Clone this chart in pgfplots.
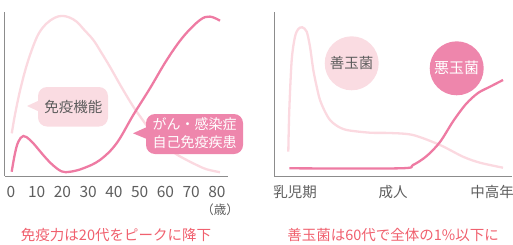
\documentclass[border=0pt]{standalone}
\usepackage{pgfplots}
\pgfplotsset{compat=1.18}
\usepackage{fontspec}
\setmainfont{Noto Sans CJK JP}
\definecolor{lightc}{HTML}{FBD9E0}
\definecolor{darkc}{HTML}{EE7BA3}
\definecolor{boxa}{HTML}{FADCE2}
\definecolor{boxb}{HTML}{EE86AC}
\definecolor{txtgray}{HTML}{5E5E5E}
\definecolor{titlec}{HTML}{F0606E}
\definecolor{axgray}{HTML}{8C8C8C}
\begin{document}
\begin{tikzpicture}
\useasboundingbox (0pt,0pt) rectangle (513pt,-244pt);
\pgfplotsset{
  myax/.style={
    scale only axis, anchor=south west,
    axis x line*=bottom, axis y line*=left,
    axis line style={-, axgray, line width=1pt},
    major tick length=0pt, ytick=\empty,
    /pgf/number format/assume math mode=true,
    xticklabel style={anchor=base, yshift=-21pt, text=txtgray, font=\fontsize{15.5}{17}\selectfont},
    clip=false,
  }
}
% Left chart
\begin{axis}[myax, at={(5pt,-176pt)}, width=223pt, height=164pt,
  xmin=-2.33, xmax=84.3, ymin=0, ymax=100,
  xtick={0,10,...,80}]
\addplot[lightc, line width=2.3pt, smooth, tension=0.6] coordinates {
(0.3,26) (1.5,37) (3.5,52) (6,67) (8.7,79.5) (11,87.5) (13.9,93.1) (17,96.5) (19.7,97.6) (22.5,96.8) (25.5,94.1) (28.5,89) (32,82.9) (35,75.5) (38.4,66.7) (43,54) (47.5,42.3) (51,34.5) (54,28) (57,22.5) (60.5,17.9) (64,13.5) (68.2,9.8) (72,6.8) (76,4.1) (81.2,2.3)};
\addplot[darkc, line width=2.3pt, smooth, tension=0.6] coordinates {
(0.26,2.6) (1.55,13.8) (2.85,20.9) (4.8,24.4) (7.4,22) (10,17.5) (12.5,12.8) (16,7) (19.7,2.8) (23,2.6) (28.1,4.7) (34.6,9.8) (41,19.9) (47.5,37.2) (54,53.5) (60.5,70.7) (66.9,84.9) (73.4,95.1) (77.3,97.2) (81.2,94.7)};
\end{axis}
% Right chart
\begin{axis}[myax, at={(274pt,-176pt)}, width=238pt, height=164pt,
  xmin=274, xmax=512, ymin=0, ymax=164,
  xtick={295,393,492}, xticklabels={乳児期,成人,中高年},
  xticklabel style={font=\fontsize{14.5}{17}\selectfont}]
\addplot[lightc, line width=2.3pt, smooth, tension=0.5] coordinates {
(288.3,24.3) (289.3,66) (291.7,116) (295,139.3) (298.3,147) (302.3,148.7) (306.7,144.3) (310,129.3) (313.3,106) (316.7,89.3) (320,76) (325,64.3) (330,56) (336.7,50.3) (346.7,46) (370,43.3) (390,43) (413,41) (440,31) (463,19.3) (480,13.3) (503,8.3)};
\addplot[darkc, line width=2.3pt, smooth, tension=0.5] coordinates {
(289.3,7.7) (400,7.7) (413,11) (426.7,20) (440,34) (453.3,55) (466,72) (478,83) (490,89.3) (503,96)};
\end{axis}
\begin{scope}[x=1pt, y=-1pt]
% callout 1
\fill[boxa, rounded corners=9pt] (38,87) rectangle (108,126.5);
\fill[boxa] (40,100) -- (27,106) -- (40,112) -- cycle;
\node[text=txtgray, font=\fontsize{14.5}{17}\selectfont, inner sep=0pt] at (73.3,106.7) {免疫機能};
% callout 2
\fill[boxb, rounded corners=9pt] (146,114) rectangle (243,154);
\fill[boxb] (148,126.5) -- (133,133.3) -- (148,139.5) -- cycle;
\node[text=white, font=\fontsize{14}{17.7}\selectfont, align=center, inner sep=0pt] at (194.5,133.5) {がん・感染症\\自己免疫疾患};
% unit
\node[text=txtgray, font=\fontsize{12.5}{14}\selectfont, inner sep=0pt] at (220,210) {（歳）};
% circles
\fill[boxa] (351.7,63.3) circle (27pt);
\node[text=txtgray, font=\fontsize{14.5}{17}\selectfont, inner sep=0pt] at (351.7,63.3) {善玉菌};
\fill[boxb] (456.7,68.3) circle (27pt);
\node[text=white, font=\fontsize{15}{17}\selectfont, inner sep=0pt] at (456.7,68.3) {悪玉菌};
% titles
\node[text=titlec, font=\fontsize{14.5}{17}\selectfont, inner sep=0pt] at (116,235) {免疫力は20代をピークに降下};
\node[text=titlec, font=\fontsize{14.5}{17}\selectfont, inner sep=0pt] at (393,235) {善玉菌は60代で全体の1\%以下に};
\end{scope}
\end{tikzpicture}
\end{document}
